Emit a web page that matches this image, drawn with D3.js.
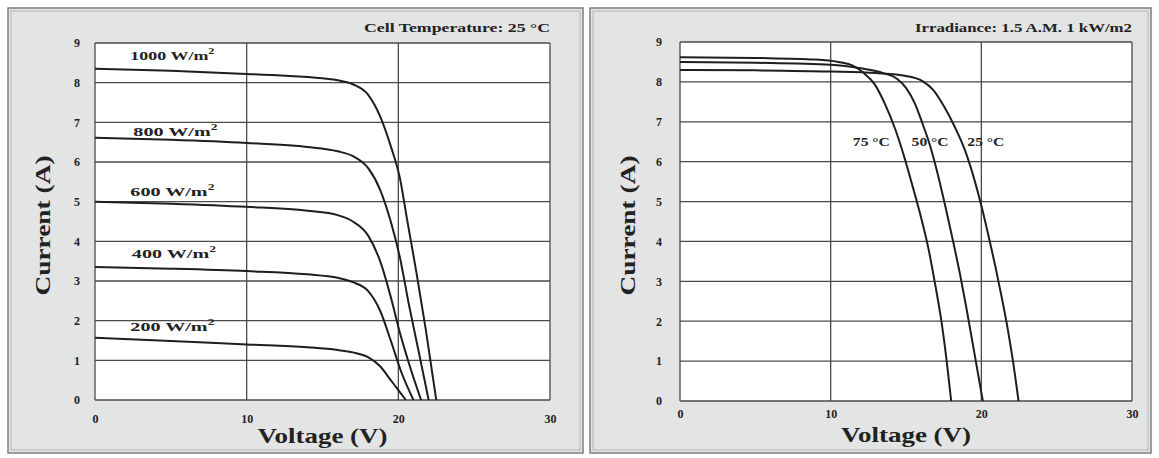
<!DOCTYPE html>
<html>
<head>
<meta charset="utf-8">
<script src="https://cdn.jsdelivr.net/npm/d3@7"></script>
<style>
  body { margin: 0; background: #fff; }
  svg text { font-family: "Liberation Serif", "DejaVu Serif", serif; font-weight: bold; fill: #222; }
</style>
</head>
<body>
<svg id="chart" width="1159" height="458"></svg>
<script>
// tick values shared by both panels
const voltageTicks = [0, 10, 20, 30];
const currentTicks = [0, 1, 2, 3, 4, 5, 6, 7, 8, 9];

// left panel: I-V curves at 25 °C for several irradiance levels, [V, A]
const irradianceNames = ["1000", "800", "600", "400", "200"];
const irr1000 = [[0, 8.35], [5, 8.3], [10, 8.22], [14, 8.14], [16, 8.06], [17, 7.96], [18, 7.7], [18.8, 7.15], [19.5, 6.4], [20.1, 5.6], [20.6, 4.5], [21.2, 3.2], [21.8, 1.8], [22.5, 0]];
const irr800 = [[0, 6.61], [5, 6.56], [10, 6.48], [14, 6.38], [16, 6.27], [17, 6.15], [18, 5.85], [18.8, 5.3], [19.5, 4.5], [20.1, 3.6], [20.7, 2.4], [21.3, 1.3], [22.0, 0]];
const irr600 = [[0, 5.0], [5, 4.95], [10, 4.87], [14, 4.77], [16, 4.66], [17, 4.5], [18, 4.15], [18.8, 3.5], [19.5, 2.6], [20.1, 1.7], [20.8, 0.8], [21.5, 0]];
const irr400 = [[0, 3.35], [5, 3.31], [10, 3.25], [14, 3.17], [16, 3.08], [17, 2.97], [18, 2.75], [18.8, 2.25], [19.5, 1.5], [20.2, 0.7], [21.0, 0]];
const irr200 = [[0, 1.57], [5, 1.49], [10, 1.40], [14, 1.33], [16, 1.26], [17, 1.2], [18, 1.08], [18.8, 0.85], [19.5, 0.5], [20.0, 0.25], [20.5, 0]];

// right panel: I-V curves at 1 kW/m2 for several cell temperatures, [V, A]
const temperatureNames = ["75", "50", "25"];
const temp75 = [[0, 8.62], [5, 8.6], [9, 8.56], [10.5, 8.5], [11.5, 8.4], [12.2, 8.22], [12.9, 7.95], [13.6, 7.45], [14.3, 6.8], [14.9, 6.1], [15.5, 5.3], [16.0, 4.6], [16.5, 3.8], [16.9, 3.0], [17.35, 2.0], [17.7, 1.0], [18.0, 0]];
const temp50 = [[0, 8.5], [5, 8.48], [10, 8.43], [12, 8.34], [13.5, 8.22], [14.4, 8.08], [15.0, 7.85], [15.6, 7.45], [16.1, 6.95], [16.6, 6.4], [17.1, 5.7], [17.6, 4.9], [18.1, 4.05], [18.6, 3.15], [19.0, 2.35], [19.4, 1.5], [19.75, 0.75], [20.1, 0]];
const temp25 = [[0, 8.3], [5, 8.29], [10, 8.26], [13, 8.22], [15, 8.15], [16.1, 8.02], [16.8, 7.8], [17.5, 7.4], [18.2, 6.9], [18.9, 6.3], [19.5, 5.6], [20.0, 4.9], [20.5, 4.1], [21.0, 3.25], [21.4, 2.51], [21.75, 1.81], [22.1, 1.0], [22.47, 0]];

const svg = d3.select("#chart");

function drawPanel(cfg) {
  // grey card behind the plot, double edged
  svg.append("rect")
    .attr("x", cfg.box.x).attr("y", cfg.box.y)
    .attr("width", cfg.box.w).attr("height", cfg.box.h)
    .attr("fill", "#e3e4e4")
    .attr("stroke", "#7e7e7e")
    .attr("stroke-width", 1.5);
  svg.append("rect")
    .attr("x", cfg.box.x + 3).attr("y", cfg.box.y + 3)
    .attr("width", cfg.box.w - 6).attr("height", cfg.box.h - 6)
    .attr("fill", "none")
    .attr("stroke", "#b4b4b4")
    .attr("stroke-width", 1);

  const x = d3.scaleLinear().domain([0, 30]).range([cfg.plot.x, cfg.plot.x + cfg.plot.w]);
  const y = d3.scaleLinear().domain([0, 9]).range([cfg.plot.y + cfg.plot.h, cfg.plot.y]);

  svg.append("rect")
    .attr("x", cfg.plot.x).attr("y", cfg.plot.y)
    .attr("width", cfg.plot.w).attr("height", cfg.plot.h)
    .attr("fill", "#fff");

  // grid lines
  const grid = svg.append("g").attr("stroke", "#4a4a4a").attr("stroke-width", 1.3);
  grid.selectAll(".gy").data(currentTicks).join("line")
    .attr("x1", cfg.plot.x).attr("x2", cfg.plot.x + cfg.plot.w)
    .attr("y1", d => y(d)).attr("y2", d => y(d));
  grid.selectAll(".gx").data(voltageTicks).join("line")
    .attr("x1", d => x(d)).attr("x2", d => x(d))
    .attr("y1", cfg.plot.y).attr("y2", cfg.plot.y + cfg.plot.h);

  // tick labels
  const yAxis = svg.append("g")
    .attr("transform", `translate(${cfg.plot.x},0)`)
    .call(d3.axisLeft(y).tickValues(currentTicks).tickSize(0).tickPadding(cfg.yPad));
  const xAxis = svg.append("g")
    .attr("transform", `translate(0,${cfg.plot.y + cfg.plot.h})`)
    .call(d3.axisBottom(x).tickValues(voltageTicks).tickSize(0).tickPadding(cfg.xPad));
  [xAxis, yAxis].forEach(a => {
    a.select(".domain").remove();
    a.selectAll("text").style("font-family", "Liberation Serif, serif")
      .style("font-weight", "bold").style("font-size", "12px").attr("fill", "#222");
  });

  // curves
  const line = d3.line().x(d => x(d[0])).y(d => y(d[1])).curve(d3.curveMonotoneX);
  cfg.series.forEach(s => {
    svg.append("path")
      .datum(s.values)
      .attr("fill", "none")
      .attr("stroke", "#1e1e1e")
      .attr("stroke-width", 2)
      .attr("d", line);
  });

  // curve labels
  cfg.series.forEach(s => {
    const t = svg.append("text")
      .attr("x", x(s.at[0]) - cfg.labelW / 2).attr("y", y(s.at[1]))
      .attr("dominant-baseline", "middle")
      .attr("textLength", cfg.labelW).attr("lengthAdjust", "spacingAndGlyphs")
      .style("font-size", "12px");
    t.append("tspan").text(s.label);
    if (s.sup) t.append("tspan").attr("baseline-shift", "super").style("font-size", "8px").text(s.sup);
  });

  // panel title
  svg.append("text")
    .attr("x", cfg.plot.x + cfg.plot.w - cfg.titleW).attr("y", cfg.titleY)
    .attr("textLength", cfg.titleW).attr("lengthAdjust", "spacingAndGlyphs")
    .style("font-size", "13px")
    .text(cfg.title);

  // axis titles
  svg.append("text")
    .attr("x", cfg.plot.x + cfg.plot.w / 2 - 65).attr("y", cfg.xTitleY)
    .attr("dominant-baseline", "middle")
    .attr("textLength", 130).attr("lengthAdjust", "spacingAndGlyphs")
    .style("font-size", "21px")
    .text("Voltage (V)");
  svg.append("text")
    .attr("transform", `translate(${cfg.yTitleX},${cfg.plot.y + cfg.plot.h / 2 + 4}) rotate(-90)`)
    .attr("x", -70)
    .attr("dominant-baseline", "middle")
    .attr("textLength", 140).attr("lengthAdjust", "spacingAndGlyphs")
    .style("font-size", "21px")
    .text("Current (A)");
}

drawPanel({
  box: { x: 8, y: 8, w: 575, h: 445 },
  plot: { x: 95, y: 43, w: 455, h: 357 },
  yPad: 15, xPad: 14,
  title: "Cell Temperature: 25 °C", titleY: 32, titleW: 186,
  xTitleY: 438, yTitleX: 45, labelW: 84,
  series: [
    { values: irr1000, label: irradianceNames[0] + " W/m", sup: "2", at: [5.1, 8.64] },
    { values: irr800, label: irradianceNames[1] + " W/m", sup: "2", at: [5.3, 6.73] },
    { values: irr600, label: irradianceNames[2] + " W/m", sup: "2", at: [5.1, 5.21] },
    { values: irr400, label: irradianceNames[3] + " W/m", sup: "2", at: [5.2, 3.65] },
    { values: irr200, label: irradianceNames[4] + " W/m", sup: "2", at: [5.1, 1.81] }
  ]
});

drawPanel({
  box: { x: 590, y: 8, w: 561, h: 445 },
  plot: { x: 680, y: 42, w: 452, h: 359 },
  yPad: 18, xPad: 8,
  title: "Irradiance: 1.5 A.M. 1 kW/m2", titleY: 32, titleW: 217,
  xTitleY: 437, yTitleX: 630, labelW: 37,
  series: [
    { values: temp75, label: temperatureNames[0] + " °C", at: [12.7, 6.47] },
    { values: temp50, label: temperatureNames[1] + " °C", at: [16.6, 6.47] },
    { values: temp25, label: temperatureNames[2] + " °C", at: [20.3, 6.47] }
  ]
});
</script>
</body>
</html>
